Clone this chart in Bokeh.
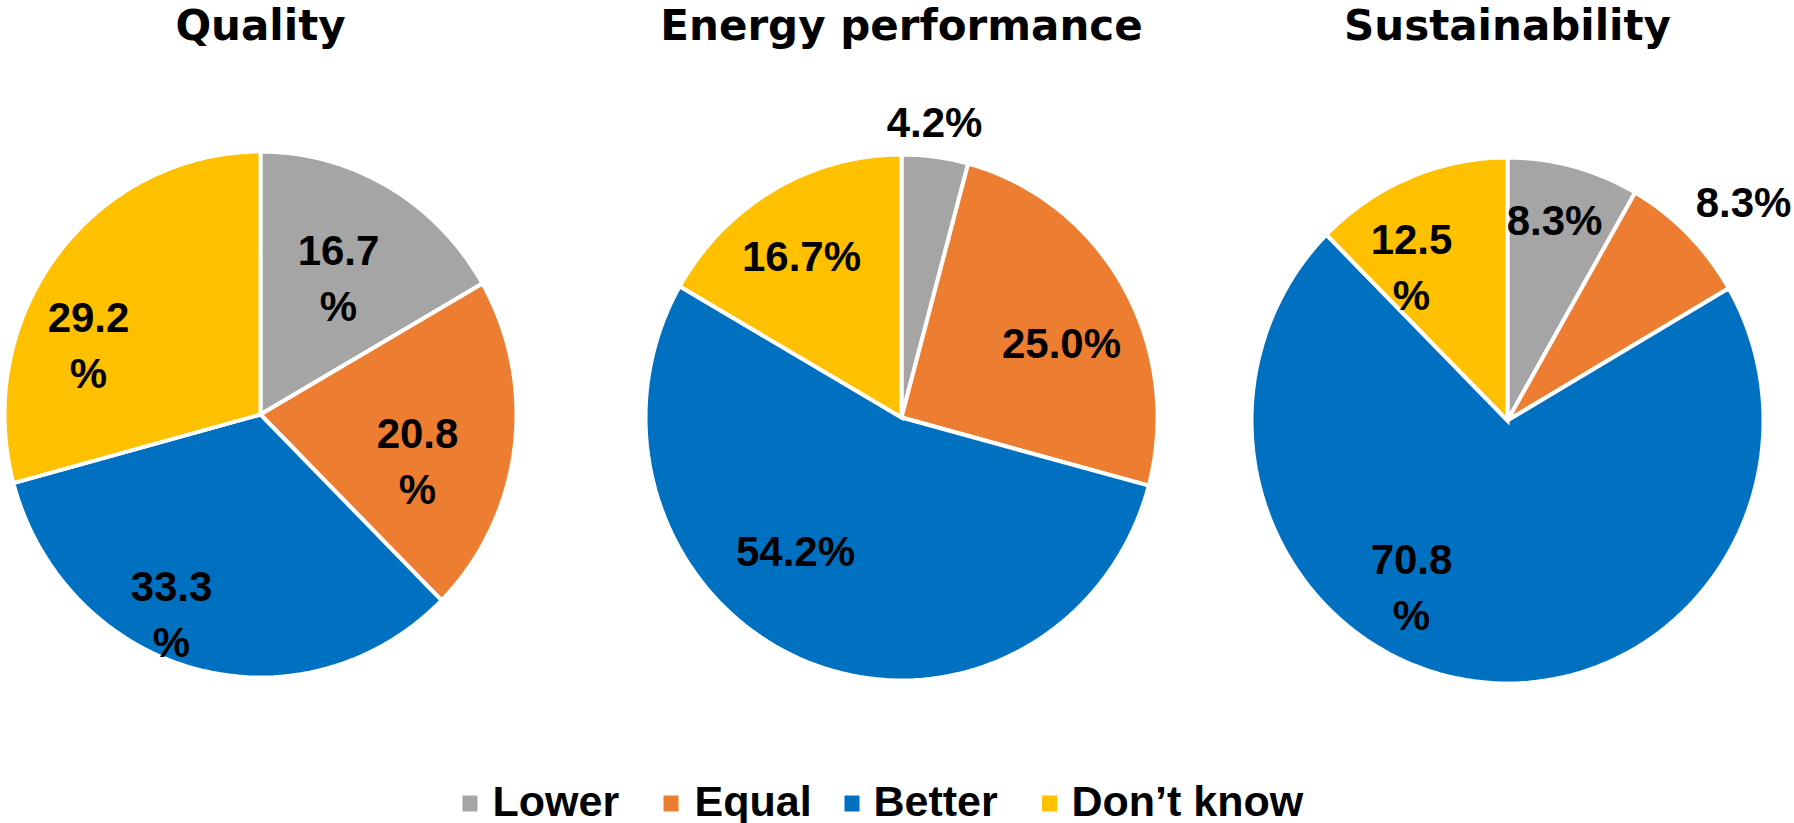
from math import pi, sin, cos

from bokeh.core.properties import value
from bokeh.embed import file_html
from bokeh.models import ColumnDataSource, Range1d
from bokeh.plotting import figure
from bokeh.resources import INLINE

# ---- data -------------------------------------------------------------
categories = ["Lower", "Equal", "Better", "Don\u2019t know"]
titles = ["Quality", "Energy performance", "Sustainability"]
quality = [16.7, 20.8, 33.3, 29.2]
energy_performance = [4.2, 25.0, 54.2, 16.7]
sustainability = [8.3, 8.3, 70.8, 12.5]
colors = ["#A5A5A5", "#ED7D31", "#0070C0", "#FFC000"]

series = [quality, energy_performance, sustainability]

# ---- layout (pixel positions measured from the top-left of the canvas) ---
W, H = 1794, 823
RX, RY = 256, 263          # pies are drawn very slightly taller than wide
ARC_STEPS = 180            # points per full turn of the outline
pie_centers = [(260, 414), (901, 417), (1507, 420)]
title_y = 25
label_font = "42px"
title_font = "42px"
legend_font = "43px"

# label anchor points per slice (Lower, Equal, Better, Don't know)
# and whether the "%" wraps onto a second line
label_points = [
    [(338, 278), (417, 461), (171, 614), (88, 345)],
    [(934, 122), (1061, 343), (795, 551), (801, 256)],
    [(1554, 220), (1743, 202), (1411, 587), (1411, 267)],
]
label_wrap = [
    [True, True, True, True],
    [False, False, False, False],
    [False, False, True, True],
]

legend_marker_x = [469.5, 670.5, 851.5, 1049]
legend_text_x = [492, 694, 873, 1071]
legend_y = 803
legend_text_y = 800


def Y(py):
    """Convert a top-down pixel row into the figure's bottom-up y value."""
    return H - py


def slice_outline(cx, cy, f0, f1):
    """Outline of one pie slice running clockwise from 12 o'clock,
    between the cumulative fractions f0 and f1 of the whole."""
    n = max(2, int(round((f1 - f0) * ARC_STEPS)) + 1)
    xs, ys = [cx], [Y(cy)]
    for i in range(n):
        t = 2 * pi * (f0 + (f1 - f0) * i / (n - 1))
        xs.append(cx + RX * sin(t))
        ys.append(Y(cy) + RY * cos(t))
    return xs, ys


p = figure(
    width=W,
    height=H,
    x_range=Range1d(0, W),
    y_range=Range1d(0, H),
    output_backend="svg",
    toolbar_location=None,
    min_border=0,
    outline_line_color=None,
    background_fill_color="white",
    border_fill_color="white",
)
p.axis.visible = False
p.grid.visible = False

for title, vals, (cx, cy), points, wraps in zip(
    titles, series, pie_centers, label_points, label_wrap
):
    total = sum(vals)
    xs, ys = [], []
    cum = 0.0
    for v in vals:
        f0 = cum / total
        cum += v
        f1 = cum / total
        sx, sy = slice_outline(cx, cy, f0, f1)
        xs.append(sx)
        ys.append(sy)

    src = ColumnDataSource(
        dict(xs=xs, ys=ys, color=colors, category=categories, value=vals)
    )
    p.patches(
        xs="xs",
        ys="ys",
        fill_color="color",
        line_color="white",
        line_width=4,
        line_join="miter",
        source=src,
    )

    texts = []
    for v, wrap in zip(vals, wraps):
        num = f"{v:.1f}"
        texts.append(f"{num}\n%" if wrap else f"{num}%")
    lab = ColumnDataSource(
        dict(
            x=[pt[0] for pt in points],
            y=[Y(pt[1]) for pt in points],
            text=texts,
        )
    )
    p.text(
        x="x",
        y="y",
        text="text",
        source=lab,
        text_font=value("Liberation Sans"),
        text_font_style="bold",
        text_font_size=label_font,
        text_align="center",
        text_baseline="middle",
        text_line_height=1.2,
        text_color="black",
    )

    p.text(
        x=[cx],
        y=[Y(title_y)],
        text=[title],
        text_font=value("DejaVu Sans"),
        text_font_style="bold",
        text_font_size=title_font,
        text_align="center",
        text_baseline="middle",
        text_color="black",
    )

# ---- legend -------------------------------------------------------------
p.rect(
    x=legend_marker_x,
    y=[Y(legend_y)] * len(categories),
    width=15,
    height=16,
    fill_color=colors,
    line_color=None,
)
p.text(
    x=legend_text_x,
    y=[Y(legend_text_y)] * len(categories),
    text=categories,
    text_font=value("Liberation Sans"),
    text_font_style="bold",
    text_font_size=legend_font,
    text_align="left",
    text_baseline="middle",
    text_color="black",
)

open("out.html", "w").write(file_html(p, INLINE))
